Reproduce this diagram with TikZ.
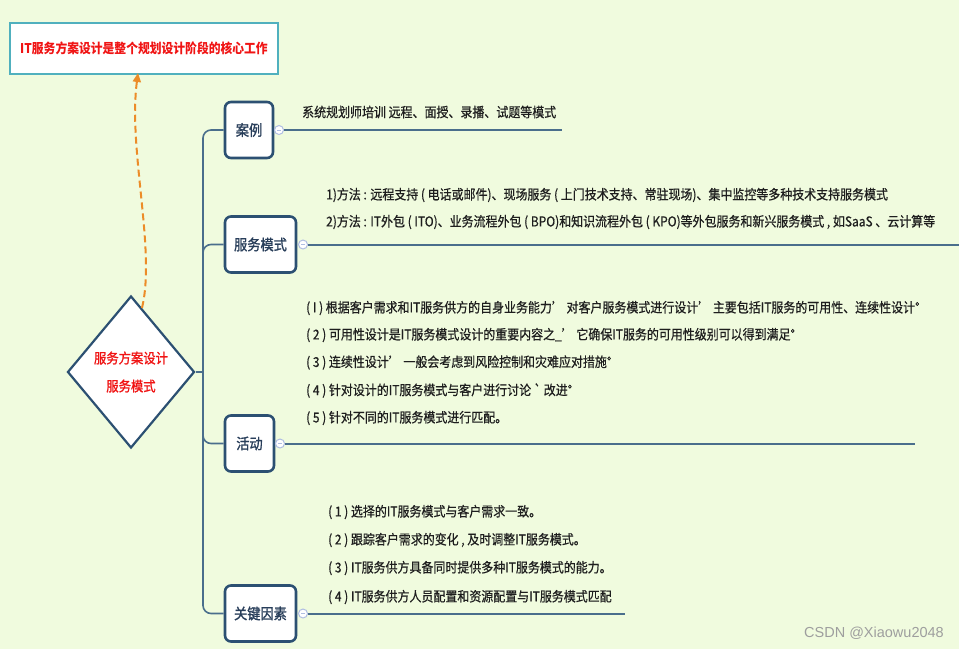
\documentclass[tikz,border=0pt]{standalone}
\usepackage{fontspec}
\setmainfont[FakeStretch=0.88]{Noto Sans CJK SC}
\newfontfamily\cnmed[FakeStretch=0.88,FakeBold=0.6]{Noto Sans CJK SC}
\newfontfamily\cnsemi[FakeStretch=0.88,FakeBold=1.2]{Noto Sans CJK SC}
\newfontfamily\wmfont{Liberation Sans}
\usetikzlibrary{shapes.geometric,arrows.meta,calc}
\definecolor{bg}{RGB}{240,251,222}
\definecolor{navy}{RGB}{44,80,114}
\definecolor{linec}{RGB}{74,110,140}
\definecolor{boxtxt}{RGB}{40,62,90}
\definecolor{txt}{RGB}{30,30,30}
\definecolor{ttl}{RGB}{240,20,20}
\definecolor{teal}{RGB}{80,176,190}
\definecolor{org}{RGB}{236,140,40}
\definecolor{knob}{RGB}{176,190,226}
\tikzset{
  topicbox/.style={draw=navy, line width=2.6pt, fill=white, rounded corners=6pt,
    text=boxtxt, font=\cnsemi\fontsize{15}{17}\selectfont, inner sep=0pt},
  knobc/.style={circle, draw=knob, fill=white, line width=1pt, minimum size=9pt, inner sep=0pt},
  hline/.style={draw=linec, line width=2pt},
  trunk/.style={draw=linec, line width=1.6pt, rounded corners=8pt},
  leaf/.style={anchor=west, inner sep=0pt, text=txt, font=\cnmed\fontsize{13.6}{15}\selectfont},
}
\newcommand\knobminus[1]{\draw[knob, line width=0.8pt] ($(#1)+(-2,0)$) -- ($(#1)+(2,0)$);}
\begin{document}
\begin{tikzpicture}[x=1pt,y=-1pt]
\fill[bg] (0,0) rectangle (959,649);
\useasboundingbox (0,0) rectangle (959,649);

% title callout
\node[draw=teal, line width=1.2pt, fill=white, minimum width=268pt, minimum height=51pt,
  inner sep=0pt, text=ttl, font=\bfseries\fontsize{13.4}{15}\selectfont] (title) at (144,48.5)
  {IT服务方案设计是整个规划设计阶段的核心工作};

% central diamond
\node[diamond, draw=navy, line width=2.2pt, fill=white, minimum width=127pt, minimum height=152pt,
  inner sep=0pt, text=ttl, align=center, font=\cnsemi\fontsize{14}{28}\selectfont] (dia) at (131,372)
  {服务方案设计\\服务模式};

% dashed arrow
\coordinate (arrs) at ($(dia.north)!0.17!(dia.east)$);
\coordinate (arre) at (138,73);
\draw[org, line width=2pt, dash pattern=on 7pt off 4pt, -{Triangle[length=9pt,width=8pt]}]
  (arrs) .. controls (156,250) and (128,150) .. (arre);

% topic boxes
\node[topicbox, minimum width=48pt, minimum height=56pt] (anli) at (249,130) {案例};
\node[topicbox, minimum width=71pt, minimum height=56pt] (fwms) at (260.5,244.5) {服务模式};
\node[topicbox, minimum width=49pt, minimum height=56pt] (hd) at (249.5,443.5) {活动};
\node[topicbox, minimum width=71pt, minimum height=56pt] (gjys) at (260.5,613.5) {关键因素};

% trunk
\coordinate (hub) at (203,372);
\draw[linec, line width=1.6pt] (dia.east) -- (hub);
\draw[trunk] (hub) |- (anli.west);
\draw[trunk] (hub) |- (fwms.west);
\draw[trunk] (hub) |- (hd.west);
\draw[trunk] (hub) |- (gjys.west);

% knobs and branch lines
\node[knobc] (k1) at (279,130) {};
\node[knobc] (k2) at (303,244.5) {};
\node[knobc] (k3) at (280,443.5) {};
\node[knobc] (k4) at (303,613.5) {};
\knobminus{k1}\knobminus{k2}\knobminus{k3}\knobminus{k4}
\coordinate (e1) at (562,130);
\coordinate (e2) at (959,244.5);
\coordinate (e3) at (915,443.5);
\coordinate (e4) at (625,613.5);
\draw[hline] (k1.east) -- (e1);
\draw[hline] (k2.east) -- (e2);
\draw[hline] (k3.east) -- (e3);
\draw[hline] (k4.east) -- (e4);

% leaf texts
\node[leaf] (t1) at (302,112) {系统规划师培训 远程、面授、录播、试题等模式};

\node[leaf] (t21) at (326,195) {1)方法 : 远程支持 ( 电话或邮件)、现场服务 ( 上门技术支持、常驻现场)、集中监控等多种技术支持服务模式};
\node[leaf] (t22) at (326,222) {2)方法 : IT外包 ( ITO)、业务流程外包 ( BPO)和知识流程外包 ( KPO)等外包服务和新兴服务模式 , 如SaaS 、云计算等};

\node[leaf] (t31) at (306,308) {( I ) 根据客户需求和IT服务供方的自身业务能力’ 对客户服务模式进行设计’ 主要包括IT服务的可用性、连续性设计°};
\node[leaf] (t32) at (306,335) {( 2 ) 可用性设计是IT服务模式设计的重要内容之\_’ 它确保IT服务的可用性级别可以得到满足°};
\node[leaf] (t33) at (306,362.5) {( 3 ) 连续性设计’ 一般会考虑到风险控制和灾难应对措施°};
\node[leaf] (t34) at (306,390.5) {( 4 ) 针对设计的IT服务模式与客户进行讨论 ` 改进°};
\node[leaf] (t35) at (306,418) {( 5 ) 针对不同的IT服务模式进行匹配。};

\node[leaf] (t41) at (328,512) {( 1 ) 选择的IT服务模式与客户需求一致。};
\node[leaf] (t42) at (328,540) {( 2 ) 跟踪客户需求的变化 , 及时调整IT服务模式。};
\node[leaf] (t43) at (328,568) {( 3 )  IT服务供方具备同时提供多种IT服务模式的能力。};
\node[leaf] (t44) at (328,597) {( 4 )  IT服务供方人员配置和资源配置与IT服务模式匹配};

% watermark
\node[anchor=east, inner sep=0pt, text=black!38, font=\wmfont\fontsize{14.5}{16}\selectfont] (wm) at (944,633) {CSDN @Xiaowu2048};
\end{tikzpicture}
\end{document}
